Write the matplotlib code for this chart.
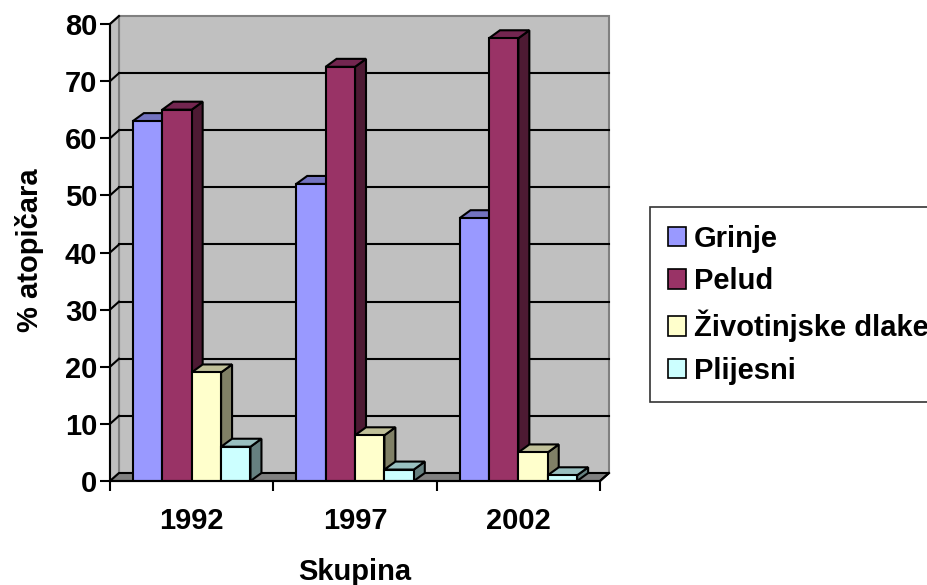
import matplotlib
matplotlib.use('Agg')
import matplotlib.pyplot as plt
from matplotlib.patches import Polygon, Rectangle
import numpy as np

plt.rcParams['font.family'] = ['Liberation Sans', 'DejaVu Sans']
plt.rcParams['font.weight'] = 'bold'

years = ['1992', '1997', '2002']
series = ['Grinje', 'Pelud', 'Životinjske dlake', 'Plijesni']
grinje = [63, 52, 46]
pelud = [65, 72.5, 77.5]
dlake = [19, 8, 5]
plijesni = [6, 2, 1]
values = [grinje, pelud, dlake, plijesni]

colors = ['#9999FF', '#993366', '#FFFFCC', '#CCFFFF']
tops = ['#7373C0', '#732650', '#C0C099', '#99C0C0']
sides = ['#4D4D80', '#4D1A33', '#808066', '#668080']

fig = plt.figure(figsize=(9.28, 5.85), dpi=100)
L, R, T, B = 110, 600, 24, 481
ax = fig.add_axes([L / 928, 1 - B / 585, (R - L) / 928, (B - T) / 585])
ax.set_xlim(-0.5, 2.5)
ax.set_ylim(0, 80)
ax.set_facecolor('none')

# pixel -> data units
ux = 3 / (R - L)
uy = 80 / (B - T)
wdx, wdy = 9 * ux, 8 * uy   # wall depth
bdx, bdy = 11 * ux, 8 * uy  # bar depth

# walls and floor
back = Polygon([(-0.5 + wdx, wdy), (2.5 + wdx, wdy), (2.5 + wdx, 80 + wdy), (-0.5 + wdx, 80 + wdy)],
               closed=True, facecolor='#C0C0C0', edgecolor='#808080', lw=1.5, clip_on=False, zorder=0)
left = Polygon([(-0.5, 0), (-0.5, 80), (-0.5 + wdx, 80 + wdy), (-0.5 + wdx, wdy)],
               closed=True, facecolor='#C0C0C0', edgecolor='#808080', lw=1.5, clip_on=False, zorder=0)
floor = Polygon([(-0.5, 0), (2.5, 0), (2.5 + wdx, wdy), (-0.5 + wdx, wdy)],
                closed=True, facecolor='#808080', edgecolor='black', lw=1.5, clip_on=False, zorder=1)
ax.add_patch(back)
ax.add_patch(left)
ax.add_patch(floor)

for v in range(10, 80, 10):
    ax.plot([-0.5 + wdx, 2.5 + wdx], [v + wdy, v + wdy], color='black', lw=1.5, zorder=1, clip_on=False)
    ax.plot([-0.5, -0.5 + wdx], [v, v + wdy], color='black', lw=1.5, zorder=1, clip_on=False)
ax.plot([-0.5, -0.5 + wdx], [80, 80 + wdy], color='black', lw=1.5, zorder=1, clip_on=False)
ax.plot([2.5, 2.5 + wdx], [0, wdy], color='black', lw=1.5, zorder=1, clip_on=False)

# bars
x = np.arange(len(years))
w = 0.18
z = 2
for j in range(len(x)):
    for i, vals in enumerate(values):
        xl = x[j] + (i - 2) * w
        xr = xl + w
        v = vals[j]
        ax.bar(xl, v, width=w, align='edge', color=colors[i], edgecolor='black', lw=1.5, zorder=z + 1)
        side = Polygon([(xr, 0), (xr + bdx, bdy), (xr + bdx, v + bdy), (xr, v)], closed=True,
                       facecolor=sides[i], edgecolor='black', lw=1.5, zorder=z)
        top = Polygon([(xl, v), (xl + bdx, v + bdy), (xr + bdx, v + bdy), (xr, v)], closed=True,
                      facecolor=tops[i], edgecolor='black', lw=1.5, zorder=z)
        ax.add_patch(side)
        ax.add_patch(top)
        z += 2

# axes
for s in ['top', 'right']:
    ax.spines[s].set_visible(False)
for s in ['left', 'bottom']:
    ax.spines[s].set_linewidth(1.5)
    ax.spines[s].set_zorder(50)

fs = 21
ax.set_yticks(range(0, 81, 10))
ax.tick_params(axis='y', length=7, width=1.5, pad=2, labelsize=fs)
ax.set_xticks(x)
ax.set_xticklabels(years)
ax.set_xticks([-0.5, 0.5, 1.5, 2.5], minor=True)
ax.tick_params(axis='x', which='major', length=0, pad=19, labelsize=fs)
ax.tick_params(axis='x', which='minor', length=7, width=1.5)
for lab in ax.get_xticklabels() + ax.get_yticklabels():
    lab.set_fontweight('bold')

fig.text(355 / 928, 1 - 572 / 585, 'Skupina', ha='center', va='center', fontsize=fs, fontweight='bold')
fig.text(30 / 928, 1 - 250 / 585, '% atopičara', ha='center', va='center', rotation=90,
         fontsize=fs, fontweight='bold')

handles = [Rectangle((0, 0), 1, 1, facecolor=c, edgecolor='black', lw=1.2) for c in colors]
leg = fig.legend(handles, series, loc='upper left', bbox_to_anchor=(650 / 928, 1 - 207 / 585),
                 fontsize=fs, frameon=True, fancybox=False, edgecolor='black', borderaxespad=0,
                 handlelength=0.65, handleheight=0.65, handletextpad=0.25, labelspacing=0.5,
                 borderpad=0.6)
leg.get_frame().set_linewidth(1.2)
for t in leg.get_texts():
    t.set_fontweight('bold')

fig.savefig('out.png', dpi=100)
